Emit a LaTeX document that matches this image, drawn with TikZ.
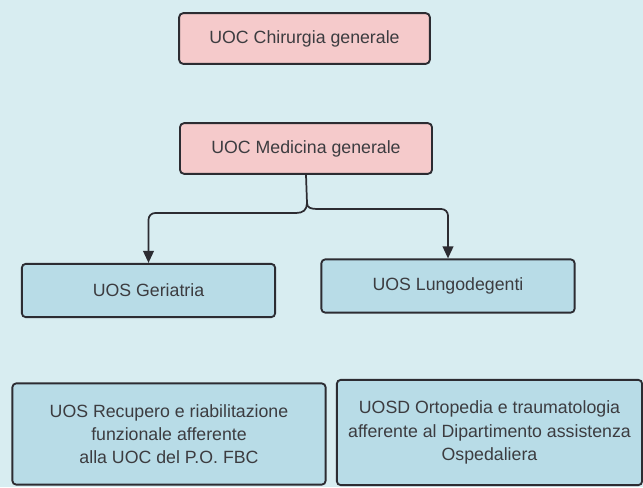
\documentclass[tikz,border=0pt]{standalone}
\usepackage{fontspec}
\setmainfont{Liberation Sans}
\usetikzlibrary{arrows.meta}
\definecolor{bgc}{HTML}{D8EDF1}
\definecolor{pinkc}{HTML}{F5CACB}
\definecolor{bluec}{HTML}{B8DCE7}
\definecolor{edgec}{HTML}{2C2C32}
\definecolor{txtc}{HTML}{3C3C40}
\tikzset{
  box/.style={draw=edgec, line width=1.4pt, rounded corners=3pt, inner sep=0pt,
    align=center, text=txtc, font=\fontsize{13.3}{17.5}\selectfont},
  pinkbox/.style={box, fill=pinkc},
  bluebox/.style={box, fill=bluec},
  conn/.style={draw=edgec, line width=1.3pt},
  arr/.style={-{Triangle[width=8pt,length=9pt]}}
}
\begin{document}
\begin{tikzpicture}[x=0.75pt,y=-0.75pt]
\fill[bgc] (0,0) rectangle (643,487);
\useasboundingbox (0,0) rectangle (643,487);
\node[pinkbox, minimum width=188pt, minimum height=38pt] (chir) at (304.5,38.5) {UOC Chirurgia generale};
\node[pinkbox, minimum width=189pt, minimum height=38pt] (med) at (306,148.5) {UOC Medicina generale};
\node[bluebox, minimum width=190pt, minimum height=40pt] (ger) at (148.5,290.5) {UOS Geriatria};
\node[bluebox, minimum width=190pt, minimum height=40pt] (lun) at (448,286) {UOS Lungodegenti};
\node[bluebox, minimum width=235pt, minimum height=76pt] (rec) at (169,434) {UOS Recupero e riabilitazione\\funzionale afferente\\alla UOC del P.O. FBC};
\node[bluebox, minimum width=229pt, minimum height=79pt] (ort) at (489.5,432.5) {UOSD Ortopedia e traumatologia\\afferente al Dipartimento assistenza\\Ospedaliera};
\coordinate (sp) at (307,203);
\coordinate (hl) at (296,213);
\coordinate (hr) at (318,209);
\draw[conn] (med.south) -- (sp);
\draw[conn,arr] (sp) .. controls +(0,7) and +(7,0) .. (hl) [rounded corners=5pt] -- (ger.north |- hl) -- (ger.north);
\draw[conn,arr] (sp) .. controls +(0,5) and +(-7,0) .. (hr) [rounded corners=5pt] -- (lun.north |- hr) -- (lun.north);
\end{tikzpicture}
\end{document}
